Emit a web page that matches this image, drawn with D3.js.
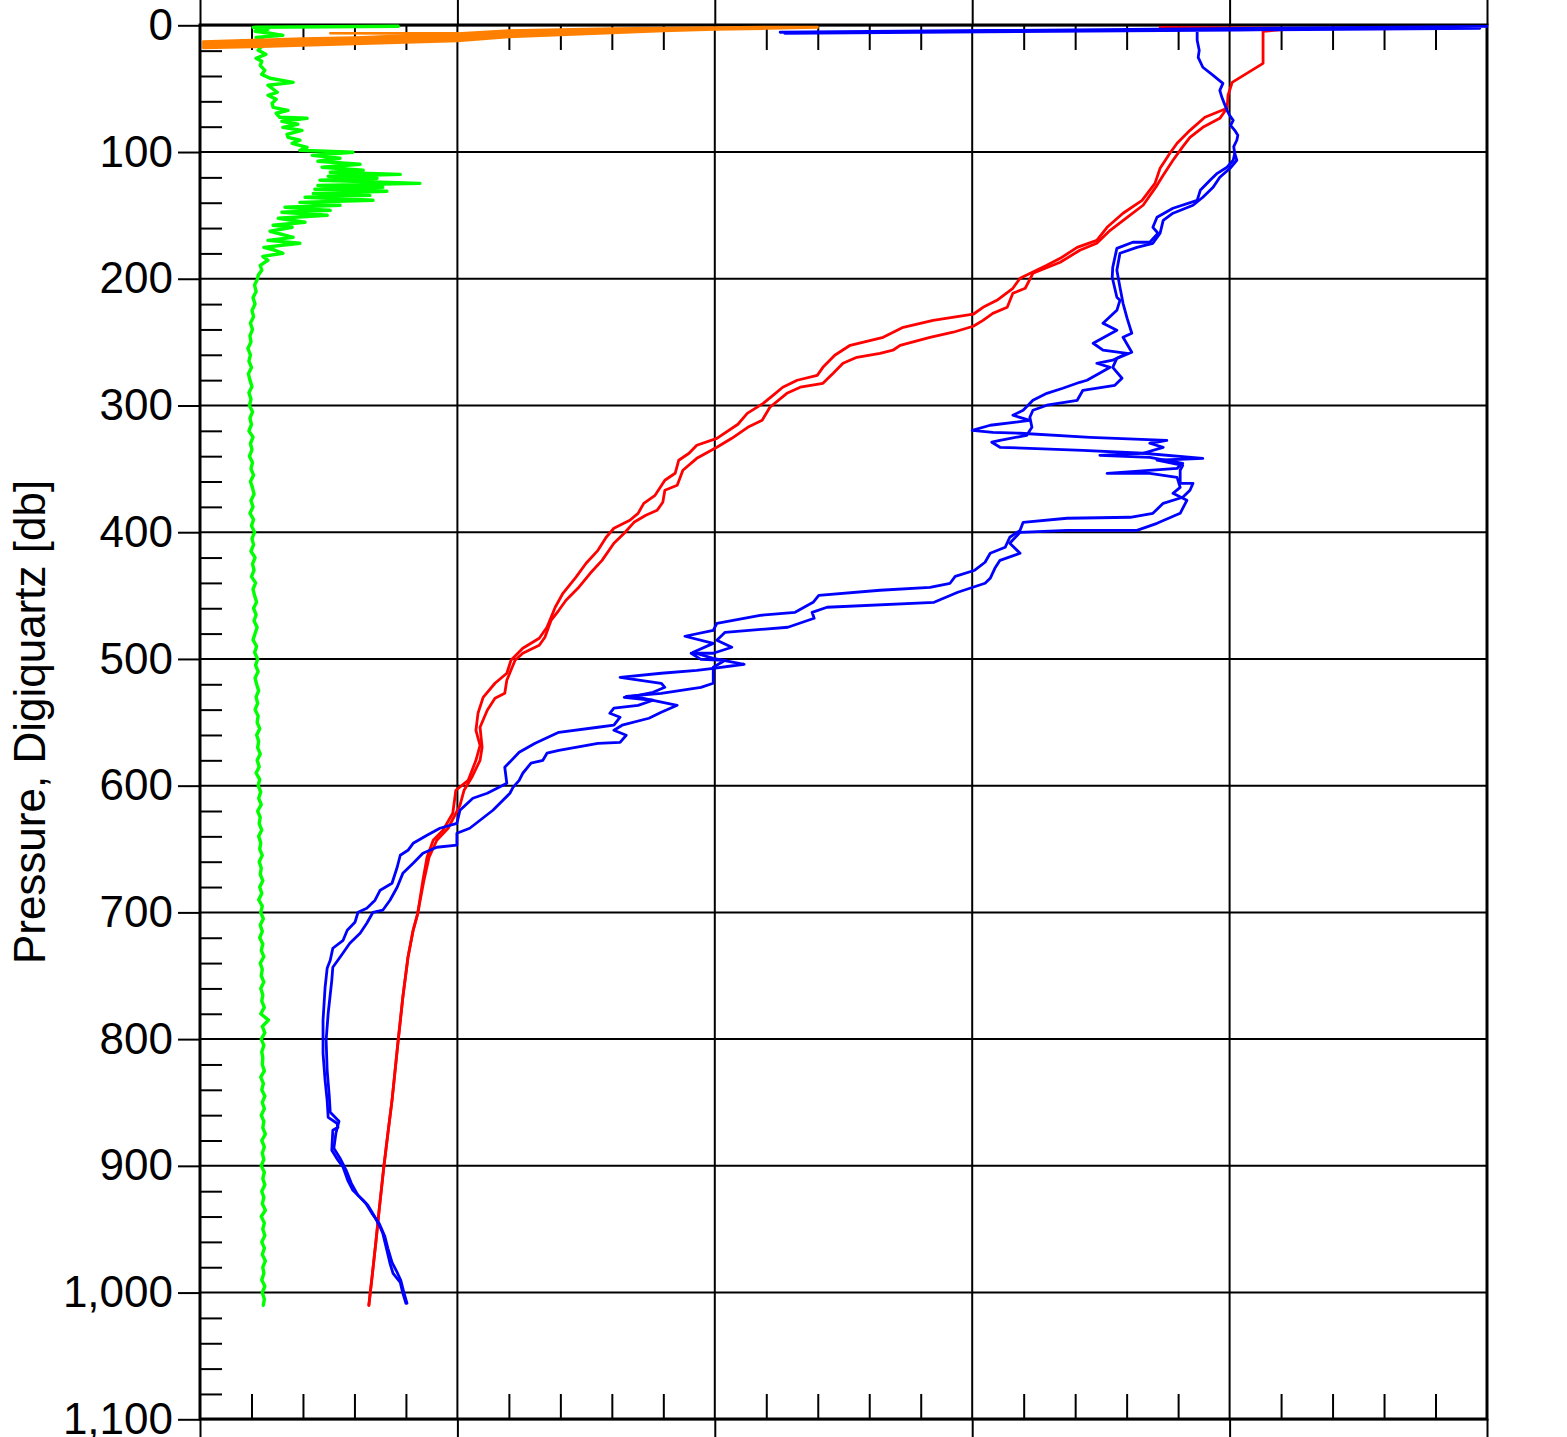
<!DOCTYPE html>
<html>
<head>
<meta charset="utf-8">
<script src="https://d3js.org/d3.v7.min.js"></script>
<style>
  body { margin: 0; background: #fff; }
  text { font-family: "Liberation Sans", Arial, sans-serif; }
</style>
</head>
<body>
<script>
// axis ticks
var pressureTicks = [0, 100, 200, 300, 400, 500, 600, 700, 800, 900, 1000, 1100];
var xMajorTicks = [0, 5, 10, 15, 20, 25];
var yLabel = "Pressure, Digiquartz [db]";

// profiles: [pressure db, value] (x has no labels, 0..25 units)
var redTop = [[1.6,18.65],[2.4,21.37],[4.7,20.65],[19.7,20.65],[30.0,20.65],[45.0,20.05],[55.2,19.97],[65.5,19.95]];
var redDownA = [[72.6,19.52],[82.9,19.23],[93.1,18.98],[101.0,18.84],[112.8,18.65],[124.7,18.55],[138.1,18.30],[148.3,17.93],[159.4,17.62],[169.7,17.42],[175.2,17.04],[183.9,16.71],[189.4,16.45],[199.6,15.93],[207.5,15.79],[217.0,15.48],[222.5,15.21],[228.0,15.02],[232.8,14.24],[238.3,13.66],[246.2,13.27],[252.5,12.63],[260.4,12.33],[269.9,12.10],[276.2,11.99],[280.1,11.60],[285.6,11.32],[292.0,11.13],[298.3,10.94],[306.2,10.63],[314.8,10.45],[325.9,10.04],[331.4,9.65],[337.7,9.50],[343.2,9.30],[353.5,9.23],[359.0,9.03],[370.9,8.84],[377.2,8.62],[385.1,8.51],[390.6,8.35],[396.9,8.04],[404.0,7.89],[414.3,7.73],[424.5,7.50],[435.6,7.30],[448.2,7.05],[459.2,6.90],[475.0,6.74],[483.7,6.59],[491.6,6.27],[501.1,6.04],[511.3,5.96],[519.2,5.73],[530.3,5.50],[542.9,5.40],[556.3,5.36],[568.2,5.44],[580.0,5.36],[595.8,5.21],[603.6,4.97],[621.8,4.91],[635.2,4.72],[643.1,4.53],[656.5,4.41],[674.7,4.33]];
var redDownB = [[73.4,19.81],[80.5,19.48],[88.4,19.23],[96.3,19.08],[106.5,18.90],[118.4,18.71],[126.3,18.59],[142.0,18.32],[151.5,18.01],[161.8,17.68],[172.0,17.42],[177.5,17.09],[187.0,16.71],[195.7,16.18],[207.5,16.03],[211.5,15.79],[222.5,15.68],[227.3,15.40],[232.8,15.21],[237.5,15.02],[242.2,14.63],[246.2,14.18],[252.5,13.60],[256.4,13.46],[258.8,13.21],[262.0,12.76],[266.7,12.49],[274.6,12.30],[282.5,12.10],[285.6,11.66],[290.4,11.40],[301.4,11.07],[311.7,10.92],[317.2,10.64],[325.9,10.33],[333.0,10.04],[341.7,9.65],[351.1,9.38],[363.0,9.27],[366.9,9.03],[376.4,8.99],[382.7,8.88],[386.6,8.66],[392.2,8.43],[400.8,8.24],[408.7,8.04],[422.2,7.81],[432.4,7.58],[444.3,7.34],[453.7,7.11],[461.6,6.97],[469.5,6.82],[482.9,6.70],[489.2,6.59],[495.5,6.27],[501.1,6.12],[516.8,5.96],[527.1,5.92],[531.0,5.73],[540.5,5.58],[553.9,5.44],[569.7,5.48],[580.0,5.44],[593.4,5.28],[603.6,5.13],[615.5,5.05],[633.6,4.82],[643.1,4.60],[656.5,4.45],[674.7,4.35]];
var redDeep = [[700.7,4.23],[714.1,4.14],[735.4,4.04],[767.0,3.94],[800.9,3.85],[832.5,3.77],[848.3,3.73],[874.3,3.65],[901.1,3.57],[935.0,3.48],[958.7,3.42],[984.8,3.35],[1010.0,3.28]];

var blueTop = [[0.8,25.0],[5.5,11.27],[3.2,21.37],[6.3,11.36],[2.4,24.86],[4.7,13.60],[3.9,19.37],[11.8,19.37],[19.7,19.41],[25.3,19.39],[33.1,19.48],[39.5,19.68],[45.8,19.87],[51.3,19.81],[56.8,19.85],[62.0,19.90],[67.1,19.95],[71.0,20.00],[75.0,20.07],[79.0,20.02],[82.9,20.10],[86.8,20.16],[90.7,20.14],[95.8,20.08],[101.0,20.10]];
var blueDownA = [[106.5,20.07],[112.0,19.95],[116.8,19.76],[122.3,19.62],[130.2,19.43],[138.1,19.37],[144.4,18.90],[151.5,18.59],[159.4,18.51],[164.1,18.61],[171.2,18.45],[171.2,18.12],[176.0,17.81],[191.0,17.73],[198.8,17.72],[214.6,17.81],[217.0,17.87],[224.9,17.81],[235.1,17.54],[240.7,17.81],[250.9,17.35],[256.4,17.54],[258.8,18.01],[264.3,17.73],[266.7,17.42],[269.9,17.68],[280.1,17.23],[281.7,17.09],[286.4,16.76],[290.4,16.45],[295.9,16.18],[303.8,15.99],[307.7,15.79],[311.7,16.12],[315.6,15.35],[319.6,15.00],[321.2,15.40],[321.9,15.93],[325.1,17.29],[327.5,18.78],[329.8,18.45],[333.0,18.71],[337.7,18.32],[341.7,19.48],[343.2,18.59],[347.2,19.09],[351.1,19.04],[361.4,19.04],[361.4,19.29],[366.9,19.23],[372.4,19.09],[377.2,18.71],[385.1,18.51],[388.2,18.07],[389.0,16.84],[392.2,15.99],[398.5,15.93],[404.0,15.73],[411.9,15.64],[416.6,15.35],[423.7,15.25],[430.0,15.05],[434.8,14.67],[440.3,14.57],[443.5,14.18],[445.8,13.21],[449.8,12.02],[455.3,11.91],[463.2,11.56],[465.6,10.88],[471.9,10.04],[477.4,9.97],[482.1,9.42],[487.7,9.97],[494.8,9.58],[499.5,9.97],[504.2,10.57],[507.4,9.97],[509.0,9.65],[511.3,8.96],[514.5,8.16],[519.2,8.96],[522.4,9.03],[526.3,8.80],[528.7,8.51],[530.3,8.24],[532.6,8.80],[536.6,8.51],[538.9,8.04],[542.9,7.96],[546.0,8.16],[552.3,8.04],[553.9,7.73],[557.9,6.97],[566.6,6.51],[573.7,6.20],[585.5,5.92],[598.1,5.96],[606.0,5.58],[609.9,5.30],[619.4,5.05],[629.7,4.99],[633.6,4.66],[639.1,4.41],[645.5,4.14],[651.0,4.04],[654.9,3.89],[664.4,3.83],[677.0,3.73],[682.5,3.50],[690.4,3.40],[696.8,3.24],[699.9,3.07],[707.8,3.01],[714.1,2.86],[722.0,2.78],[728.3,2.58],[737.8,2.53],[744.1,2.47],[759.1,2.43],[785.1,2.39],[811.2,2.39],[832.5,2.43],[848.3,2.47],[861.7,2.49],[866.4,2.66],[869.6,2.68],[871.9,2.58],[887.7,2.56],[895.6,2.68],[901.1,2.78],[911.4,2.87],[919.3,2.97],[927.2,3.17],[931.1,3.26],[940.6,3.40],[948.5,3.50],[953.2,3.55],[966.6,3.63],[976.9,3.69],[984.8,3.75],[991.9,3.89],[1000.5,3.94],[1008.4,4.00]];
var blueDownB = [[106.5,20.14],[112.8,20.01],[119.9,19.81],[127.8,19.68],[135.7,19.48],[142.0,19.29],[148.3,18.90],[153.9,18.71],[164.1,18.65],[172.0,18.51],[175.2,18.20],[179.9,17.87],[193.3,17.81],[206.7,17.87],[219.4,17.93],[231.2,18.01],[243.0,18.10],[246.2,17.93],[258.0,18.10],[262.8,17.81],[269.9,17.73],[278.5,17.91],[284.1,17.77],[288.0,17.15],[295.9,17.04],[299.8,16.45],[303.8,16.18],[309.3,16.12],[317.2,16.16],[323.5,16.06],[327.5,15.54],[329.0,15.38],[333.0,15.54],[335.4,17.15],[337.7,18.32],[339.3,17.48],[340.9,18.45],[345.6,19.09],[349.6,18.98],[353.5,17.62],[353.5,18.45],[356.7,18.98],[364.6,19.04],[369.3,18.90],[374.8,19.17],[385.1,19.04],[393.0,18.59],[398.5,18.20],[398.5,16.84],[400.1,15.93],[408.7,15.73],[416.6,15.93],[422.2,15.54],[428.5,15.44],[436.4,15.35],[440.3,15.25],[447.4,14.72],[455.3,14.26],[459.2,12.18],[463.2,11.89],[467.9,11.93],[475.0,11.42],[479.0,10.20],[485.3,10.04],[490.8,10.33],[495.5,9.97],[495.5,9.54],[500.3,9.73],[501.1,10.20],[506.6,9.97],[514.5,9.97],[519.2,9.97],[522.4,9.73],[527.1,8.96],[529.5,8.28],[531.0,8.59],[536.6,9.27],[542.1,8.96],[546.8,8.72],[552.3,8.20],[556.3,8.04],[560.2,8.28],[565.8,8.16],[566.6,7.73],[572.1,6.97],[574.4,6.74],[580.0,6.66],[582.3,6.43],[590.2,6.27],[595.8,6.20],[601.3,6.08],[606.0,6.02],[619.4,5.69],[627.3,5.44],[633.6,5.24],[637.6,4.99],[647.0,4.99],[648.6,4.60],[653.4,4.33],[661.3,4.14],[669.2,3.94],[680.2,3.83],[690.4,3.69],[698.3,3.55],[699.9,3.36],[708.6,3.24],[716.5,3.11],[724.4,2.91],[735.4,2.72],[743.3,2.58],[753.6,2.56],[779.6,2.49],[800.9,2.45],[824.6,2.47],[844.3,2.51],[857.7,2.53],[864.8,2.70],[874.3,2.64],[886.1,2.60],[894.0,2.72],[903.5,2.84],[913.8,2.94],[923.3,3.07],[929.6,3.22],[937.5,3.34],[945.4,3.48],[955.6,3.59],[965.1,3.65],[976.1,3.73],[982.4,3.81],[990.3,3.90],[999.8,3.96],[1008.4,4.02]];

var greenUpper = [[0.8,3.85],[1.6,1.03],[3.2,1.32],[4.7,1.07],[6.3,1.36],[7.9,1.61],[9.5,1.09],[11.8,1.24],[14.2,1.05],[16.6,1.20],[19.7,1.13],[22.9,1.28],[26.0,1.09],[28.4,1.20],[31.6,1.17],[35.5,1.26],[38.7,1.20],[41.8,1.36],[45.0,1.81],[47.3,1.32],[49.7,1.40],[52.9,1.50],[55.2,1.32],[58.4,1.48],[61.5,1.40],[64.7,1.42],[67.1,1.71],[69.4,1.48],[72.6,1.55],[73.4,2.08],[75.7,1.59],[78.1,1.90],[80.5,1.61],[82.9,1.98],[86.0,1.69],[88.4,1.71],[90.7,1.94],[93.1,1.79],[96.3,2.08],
  [98.6,1.94],[100.2,2.97],[102.6,2.18],[104.9,2.72],[107.3,2.29],[109.7,3.11],[112.0,2.37],[114.4,3.17],[116.0,2.53],[117.6,3.89],[119.1,2.49],[120.7,3.44],[122.3,2.33],[124.7,4.27],[126.3,2.29],[127.8,3.55],[129.4,2.23],[131.0,3.63],[132.6,2.20],[134.2,3.30],[135.7,2.04],[138.1,3.36],[139.7,1.94],[142.0,2.72],[143.6,1.65],[146.0,2.53],[147.5,1.59],[149.9,2.47],[152.3,1.52],[155.4,2.04],[157.8,1.42],[159.4,1.79],[162.5,1.36],[167.3,1.81],[169.7,1.32],[172.0,1.94],[175.2,1.24],[177.5,1.46],[179.9,1.61],[182.3,1.22],[185.4,1.32],[189.4,1.17],[193.3,1.20],[197.3,1.13]];
// deep fluorescence readings every 5 db from 200 db
var greenDeepStart = 200, greenDeepStep = 5;
var greenDeep = [1.12,1.06,1.09,1.03,1.07,1.01,1.04,0.98,1.02,0.97,
  0.99,0.93,0.98,0.95,1.00,0.94,0.97,1.01,0.95,0.99,
  0.96,1.02,0.97,1.00,0.95,1.03,0.98,1.01,0.96,1.02,
  0.99,1.04,0.98,1.02,1.05,0.99,1.03,0.97,1.04,1.00,
  1.06,1.01,1.04,0.99,1.07,1.02,1.05,1.00,1.08,1.03,
  1.06,1.10,1.04,1.09,1.05,1.11,1.07,1.03,1.10,1.06,
  1.12,1.08,1.13,1.07,1.10,1.14,1.09,1.12,1.07,1.13,
  1.11,1.16,1.10,1.14,1.12,1.17,1.11,1.15,1.09,1.16,
  1.13,1.18,1.14,1.19,1.12,1.17,1.15,1.20,1.14,1.18,
  1.16,1.21,1.15,1.19,1.17,1.22,1.16,1.20,1.14,1.21,
  1.18,1.23,1.17,1.21,1.16,1.22,1.19,1.24,1.17,1.21,
  1.19,1.24,1.18,1.22,1.20,1.25,1.18,1.33,1.21,1.26,
  1.19,1.24,1.20,1.22,1.21,1.25,1.18,1.23,1.20,1.26,
  1.21,1.25,1.19,1.24,1.22,1.27,1.20,1.25,1.21,1.24,
  1.19,1.25,1.22,1.26,1.20,1.24,1.21,1.27,1.19,1.25,
  1.22,1.26,1.20,1.25,1.21,1.27,1.22,1.24,1.20,1.26,
  1.21,1.25,1.23];

// surface soak sensor: dense trace seen as a band (pressure range at each value)
var orangeValues  = [0.06, 1, 2, 3, 4, 5, 6, 7, 8, 9, 10, 11, 12];
var orangePresMin = [12.6, 11.4, 10.3, 9.5, 7.9, 6.3, 3.9, 3.2, 2.4, 2.0, 1.6, 1.2, 1.2];
var orangePresMax = [18.1, 17.4, 16.2, 15.0, 13.8, 12.6, 9.5, 7.9, 6.3, 4.7, 3.6, 2.8, 2.0];
var orangeSpike = [[6.3,4.99],[6.3,2.53],[6.6,4.99]];

var W = 1567, H = 1437;
var svg = d3.select("body").append("svg").attr("width", W).attr("height", H);

var x = d3.scaleLinear().domain([0, 25]).range([200, 1487]);
var y = d3.scaleLinear().domain([0, 1100]).range([25.3, 1419.3]);

var xMinorTicks = d3.range(0, 26).filter(function(d){ return d % 5 !== 0; });
var yMinorTicks = d3.range(0, 1101, 20).filter(function(d){ return d % 100 !== 0; });

// grid
svg.append("g").selectAll("line").data(pressureTicks).join("line")
  .attr("x1", 200).attr("x2", 1487)
  .attr("y1", function(d){ return y(d); }).attr("y2", function(d){ return y(d); })
  .attr("stroke", "#000").attr("stroke-width", 2);
svg.append("g").selectAll("line").data(xMajorTicks).join("line")
  .attr("x1", function(d){ return x(d); }).attr("x2", function(d){ return x(d); })
  .attr("y1", 25).attr("y2", 1419)
  .attr("stroke", "#000").attr("stroke-width", 2);

function styleAxis(g) {
  g.select(".domain").remove();
  g.selectAll(".tick line").attr("stroke", "#000").attr("stroke-width", 2);
}

// left axis with labels
svg.append("g").attr("transform", "translate(200,0)")
  .call(d3.axisLeft(y).tickValues(pressureTicks).tickSize(22).tickPadding(5).tickFormat(d3.format(",")))
  .call(styleAxis)
  .call(function(g){ g.selectAll("text").attr("font-size", 44).attr("fill", "#000")
    .attr("font-family", "'Liberation Sans', Arial, sans-serif"); });
svg.append("g").attr("transform", "translate(200,0)")
  .call(d3.axisLeft(y).tickValues(yMinorTicks).tickSize(-22).tickFormat(""))
  .call(styleAxis);

// top and bottom ticks
svg.append("g").attr("transform", "translate(0,25)")
  .call(d3.axisTop(x).tickValues(xMajorTicks).tickSize(25).tickFormat("")).call(styleAxis);
svg.append("g").attr("transform", "translate(0,25)")
  .call(d3.axisTop(x).tickValues(xMinorTicks).tickSize(-25).tickFormat("")).call(styleAxis);
svg.append("g").attr("transform", "translate(0,1419)")
  .call(d3.axisBottom(x).tickValues(xMajorTicks).tickSize(25).tickFormat("")).call(styleAxis);
svg.append("g").attr("transform", "translate(0,1419)")
  .call(d3.axisBottom(x).tickValues(xMinorTicks).tickSize(-25).tickFormat("")).call(styleAxis);

// frame
svg.append("rect").attr("x", 200).attr("y", 25).attr("width", 1287).attr("height", 1394)
  .attr("fill", "none").attr("stroke", "#000").attr("stroke-width", 3);

// profiles
var line = d3.line().x(function(d){ return x(d[1]); }).y(function(d){ return y(d[0]); });

function profile(data, color, w) {
  svg.append("path").datum(data).attr("d", line)
    .attr("fill", "none").attr("stroke", color).attr("stroke-width", w)
    .attr("stroke-linejoin", "round").attr("stroke-linecap", "round");
}

var greenDeepPairs = greenDeep.map(function(v, i){ return [greenDeepStart + i * greenDeepStep, v]; });

profile(redTop.concat(redDownA, redDeep), "#ff0000", 2.8);
profile(redTop.slice(-1).concat(redDownB, redDeep), "#ff0000", 2.8);
profile(blueTop.concat(blueDownA), "#0000ff", 2.8);
profile(blueTop.slice(-1).concat(blueDownB), "#0000ff", 2.8);
profile(greenUpper.concat(greenDeepPairs), "#00ff00", 3.4);

// orange surface band
var orangeArea = d3.area()
  .x(function(d, i){ return x(orangeValues[i]); })
  .y0(function(d, i){ return y(orangePresMax[i]); })
  .y1(function(d, i){ return y(orangePresMin[i]); });
svg.append("path").datum(orangeValues).attr("d", orangeArea)
  .attr("fill", "#ff8000").attr("stroke", "#ff8000").attr("stroke-width", 2)
  .attr("stroke-linejoin", "round");
profile(orangeSpike, "#ff8000", 2.5);

// y label
svg.append("text")
  .attr("transform", "translate(45,722) rotate(-90)")
  .attr("text-anchor", "middle")
  .attr("font-size", 44)
  .attr("fill", "#000")
  .text(yLabel);
</script>
</body>
</html>
